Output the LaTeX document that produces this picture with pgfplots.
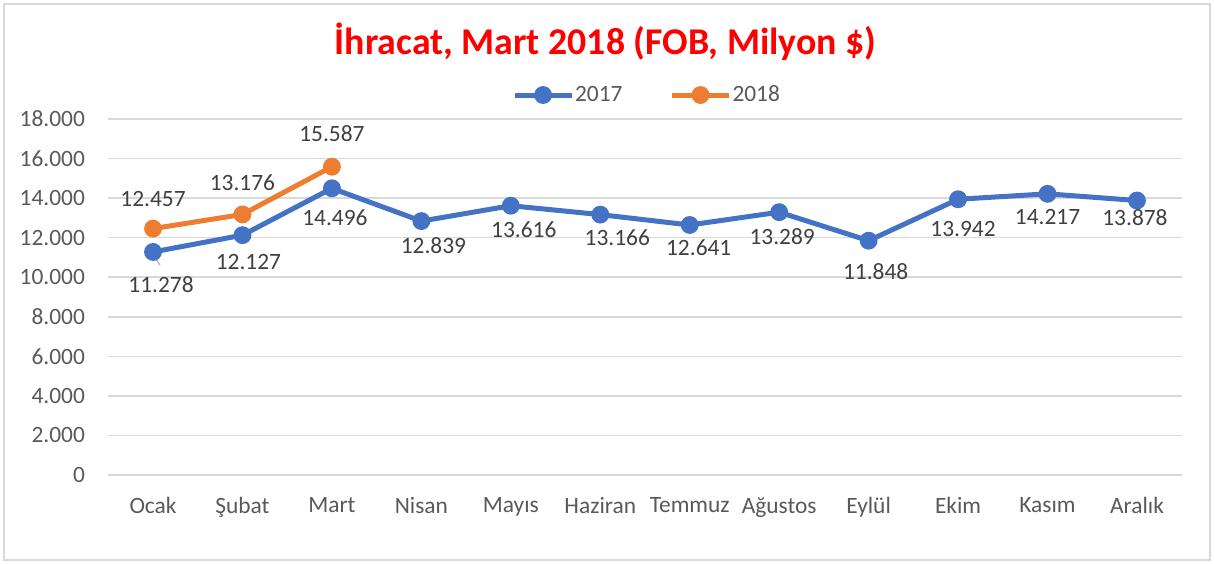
\documentclass[border=0pt]{standalone}
\usepackage{fontspec}
\setmainfont{Carlito}
\usepackage{pgfplots}
\usepackage{pgfplotstable}
\pgfplotsset{compat=1.18}
\definecolor{b17}{HTML}{4472C4}
\definecolor{o18}{HTML}{ED7D31}
\definecolor{gridc}{HTML}{D9D9D9}
\definecolor{tickc}{HTML}{595959}
\definecolor{lblc}{HTML}{404040}

\pgfplotstableread{
x y dx dy
0 11278 4 -16.5
1 12127 3 -13.5
2 14496 1.5 -14.5
3 12839 6 -12.5
4 13616 6.5 -12
5 13166 8.5 -11.5
6 12641 4.5 -11.5
7 13289 1.5 -12
8 11848 3.5 -15.5
9 13942 2.5 -15
10 14217 0 -11.5
11 13878 -1 -8.5
}\dataA

\pgfplotstableread{
x y dx dy
0 12457 0 15
1 13176 0 16
2 15587 0 16.5
}\dataB

\begin{document}
\begin{tikzpicture}
\begin{axis}[
  at={(0,0)}, anchor=south west,
  scale only axis, width=536.7pt, height=178pt,
  xmin=-0.5, xmax=11.5, ymin=0, ymax=18000,
  xtick={0,...,11},
  xticklabels={Ocak,Şubat,Mart,Nisan,Mayıs,Haziran,Temmuz,Ağustos,Eylül,Ekim,Kasım,Aralık},
  ytick={0,2000,...,18000},
  scaled y ticks=false,
  ymajorgrids,
  grid style={gridc, line width=0.75pt},
  axis line style={draw=none},
  major tick length=0pt,
  tick label style={font=\fontsize{11.7}{14}\selectfont, text=tickc},
  yticklabel style={anchor=east, inner sep=0pt, xshift=-11.5pt},
  xticklabel style={anchor=north, inner sep=0pt, yshift=-11pt},
  /pgf/number format/1000 sep={.},
  /pgf/number format/assume math mode=true,
  clip=false,
  legend style={draw=none, fill=none, at={(0.5014,1.0674)}, anchor=center,
    legend columns=2, font=\fontsize{11.7}{14}\selectfont, text=tickc,
    /tikz/every even column/.append style={column sep=23pt},
    inner sep=0pt, nodes={inner sep=0.5pt}},
  legend image code/.code={\draw[#1, mark repeat=2, mark phase=2] plot coordinates {(0pt,0pt) (14.25pt,0pt) (28.5pt,0pt)};},
  nodes near coords,
  every node near coord/.append style={font=\fontsize{11.7}{14}\selectfont, text=lblc, anchor=center, inner sep=0pt, xshift=\dx pt, yshift=\dy pt},
  visualization depends on={\thisrow{dx} \as \dx},
  visualization depends on={\thisrow{dy} \as \dy},
]
\draw[gray!70, line width=0.5pt] ([shift={(0pt,-1.5pt)}]axis cs:0,11278) -- ([shift={(3.5pt,-6.5pt)}]axis cs:0,11278);
\addplot[b17, line width=2.5pt, mark=*, mark size=3.2pt, mark options={solid}] table[x=x,y=y] {\dataA};
\addlegendentry{2017}
\addplot[o18, line width=2.5pt, mark=*, mark size=3.2pt, mark options={solid}] table[x=x,y=y] {\dataB};
\addlegendentry{2018}
\end{axis}
\node[anchor=base, font=\fontsize{18.9}{22}\selectfont\bfseries, text=red] at (248.6pt,210pt) {İhracat, Mart 2018 (FOB, Milyon \$)};
\draw[gridc, line width=0.75pt] (-52.15pt,-42.5pt) rectangle (550.85pt,235.5pt);
\pgfresetboundingbox
\path (-54.15pt,-44pt) rectangle (553.35pt,237.5pt);
\end{tikzpicture}
\end{document}
